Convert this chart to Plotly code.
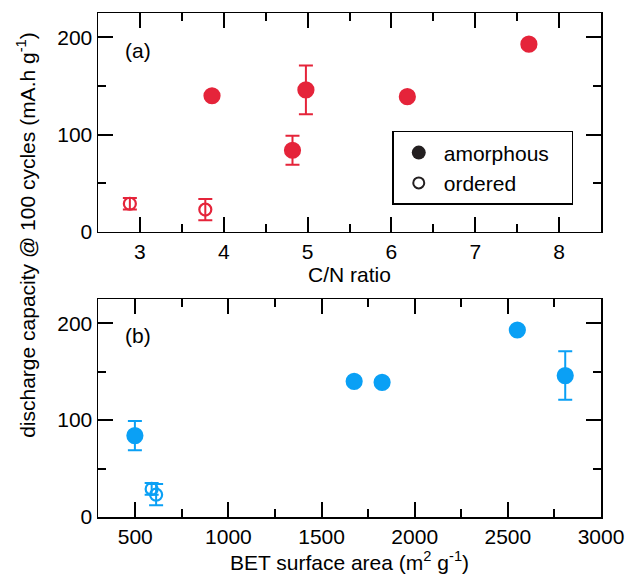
import plotly.graph_objects as go

RED = "#e5243a"
BLUE = "#0aa0f5"

cn_amorph = [3.86, 4.82, 4.98, 6.19, 7.64]
cap_amorph_a = [140, 84, 146, 139, 193]
err_amorph_a = [3, 15, 25, 3, 3]
cn_ordered = [2.88, 3.78]
cap_ordered_a = [29, 23]
err_ordered_a = [6, 11]

bet_amorph = [498, 1675, 1825, 2551, 2808]
cap_amorph_b = [84, 140, 139, 193, 146]
err_amorph_b = [15, 3, 3, 3, 25]
bet_ordered = [588, 612]
cap_ordered_b = [29, 23]
err_ordered_b = [6, 11]

xticks_a = [3, 4, 5, 6, 7, 8]
xticks_b = [500, 1000, 1500, 2000, 2500, 3000]
yticks = [0, 100, 200]

FONT = "Liberation Sans, Arial, sans-serif"
FS = 21

fig = go.Figure()

def add(x, y, e, color, filled, xa, ya):
    fig.add_trace(go.Scatter(
        x=x, y=y, mode="markers", xaxis=xa, yaxis=ya, showlegend=False,
        marker=dict(symbol="circle" if filled else "circle-open",
                    size=15 if filled else 12, color=color,
                    line=dict(width=2.2, color=color)),
        error_y=dict(type="data", array=e, visible=True, color=color,
                     thickness=2, width=7),
    ))

add(cn_amorph, cap_amorph_a, err_amorph_a, RED, True, "x", "y")
add(cn_ordered, cap_ordered_a, err_ordered_a, RED, False, "x", "y")
add(bet_amorph, cap_amorph_b, err_amorph_b, BLUE, True, "x2", "y2")
add(bet_ordered, cap_ordered_b, err_ordered_b, BLUE, False, "x2", "y2")

NB = "\u00a0"
fig.add_trace(go.Scatter(x=[None], y=[None], mode="markers", name="amorphous" + NB * 3,
                         marker=dict(symbol="circle", size=14, color="#231f20")))
fig.add_trace(go.Scatter(x=[None], y=[None], mode="markers", name="ordered",
                         marker=dict(symbol="circle-open", size=11, color="#231f20",
                                     line=dict(width=2, color="#231f20"))))

def axis(ticks, rng, minor_dt, domain, anchor, title=None):
    d = dict(
        showline=True, linecolor="black", linewidth=1.5, mirror="ticks",
        ticks="inside", ticklen=15, tickwidth=2, tickcolor="#000000",
        showgrid=False, zeroline=False, automargin=False,
        tickfont=dict(family=FONT, size=FS, color="black"),
        tickmode="array", tickvals=ticks,
        minor=dict(ticks="inside", ticklen=8, tickwidth=2, tickcolor="#000000",
                   tickmode="linear", tick0=0, dtick=minor_dt, showgrid=False),
        range=rng, domain=domain, anchor=anchor,
    )
    if title:
        d["title"] = dict(text=title, standoff=4, font=dict(family=FONT, size=FS))
    return d

fig.update_layout(
    width=631, height=581,
    margin=dict(l=98, r=30, t=13, b=64),
    paper_bgcolor="white", plot_bgcolor="white",
    font=dict(family=FONT, size=FS, color="black"),
    hovermode=False,
    xaxis=axis(xticks_a, [2.5, 8.5], 0.5, [0, 1], "y", "C/N ratio"),
    yaxis=axis(yticks, [0, 225], 50, [0.5655, 1], "x"),
    xaxis2=axis(xticks_b, [300, 3000], 250, [0, 1], "y2",
                "BET surface area (m<sup>2</sup> g<sup>-1</sup>)"),
    yaxis2=axis(yticks, [0, 225], 50, [0, 0.4325], "x2"),
    legend=dict(x=0.585, y=0.766, xanchor="left", yanchor="top",
                bordercolor="black", borderwidth=1.5, bgcolor="white",
                font=dict(family=FONT, size=FS), itemwidth=40,
                tracegroupgap=0),
    showlegend=True,
    annotations=[
        dict(text="(a)", x=0.05, y=0.925, xref="paper", yref="paper",
             xanchor="left", yanchor="middle", showarrow=False,
             font=dict(family=FONT, size=FS)),
        dict(text="(b)", x=0.05, y=0.361, xref="paper", yref="paper",
             xanchor="left", yanchor="middle", showarrow=False,
             font=dict(family=FONT, size=FS)),
        dict(text="discharge capacity @ 100 cycles (mA.h g<sup>-1</sup>)",
             x=-0.143, y=0.56, xref="paper", yref="paper", textangle=-90,
             xanchor="center", yanchor="middle", showarrow=False,
             font=dict(family=FONT, size=FS)),
    ],
)

fig.write_html("out.html",
               config={"displayModeBar": False, "staticPlot": True},
               post_script="document.body.style.margin='0px';document.body.style.padding='0px';")
